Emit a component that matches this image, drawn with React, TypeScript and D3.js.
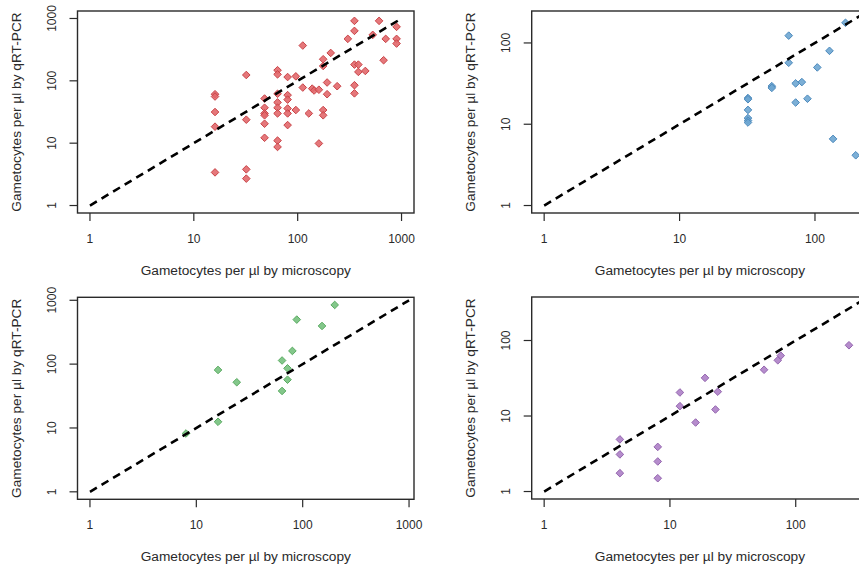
import React from "react";
import * as d3 from "d3";

// ---- Data ----
const TL_X = [352, 608, 352, 896, 528, 704, 896, 896, 304, 112, 208, 176, 176, 672, 352, 384, 384, 448, 64, 64, 32, 80, 96, 192, 240, 112, 138, 144, 160, 192, 352, 352, 64, 80, 80, 48, 64, 64, 48, 80, 96, 64, 80, 48, 48, 128, 176, 176, 48, 80, 48, 64, 64, 160, 16, 16, 16, 16, 16, 32, 32, 32];
const TL_Y = [916, 916, 633, 734, 546, 471, 471, 396, 471, 368, 280, 222, 173, 214, 182, 182, 139, 144, 148, 127, 124, 115, 118, 94, 82, 78, 75, 70, 72, 61, 85, 63, 62, 59, 50, 52, 45, 37, 37, 36, 34, 30, 30, 30, 28, 30, 34, 28, 20.5, 19.5, 12.2, 11, 8.7, 9.9, 61, 56, 31.6, 18.4, 3.4, 23.8, 3.8, 2.7];

const TR_X = [64, 168, 128, 64, 104, 48, 48, 72, 80, 72, 88, 32, 32, 32, 32, 32, 32, 136, 200];
const TR_Y = [123, 177, 80, 57, 50, 29.4, 28, 31.8, 33, 18.5, 20.6, 21, 20.3, 15, 11.9, 11.1, 10.5, 6.6, 4.15];

const BL_X = [200, 88, 152, 80, 64, 72, 72, 64, 16, 24, 16, 8];
const BL_Y = [845, 498, 396, 161, 114, 86, 57, 38, 81, 52, 12.5, 8.2];

const BR_X = [265, 76, 72, 56, 19, 12, 24, 12, 23, 16, 4, 4, 4, 8, 8, 8];
const BR_Y = [86.5, 63, 54.7, 41, 32, 20.5, 21, 13.5, 12.2, 8.2, 4.9, 3.1, 1.75, 3.9, 2.5, 1.5];

const AXIS_TICKS = [1, 10, 100, 1000];
const X_TITLE = "Gametocytes per µl by microscopy";
const Y_TITLE = "Gametocytes per µl by qRT-PCR";

const PANELS = [
  { id: "tl", xs: TL_X, ys: TL_Y, lim: 1000, left: 77.5, top: 11, fill: "#e2686c", stroke: "#c94448" },
  { id: "tr", xs: TR_X, ys: TR_Y, lim: 200, left: 531.7, top: 11, fill: "#6ea6d2", stroke: "#4b89bc" },
  { id: "bl", xs: BL_X, ys: BL_Y, lim: 850, left: 77.5, top: 297.3, fill: "#76c17d", stroke: "#5aab62" },
  { id: "br", xs: BR_X, ys: BR_Y, lim: 300, left: 531.7, top: 297, fill: "#ad7fc6", stroke: "#9364ae" },
];

const W = 336.5;
const H = 202;
const FONT = "'Liberation Sans', Arial, sans-serif";
const INK = "#2a2a2a";

function Panel({ p }: { p: (typeof PANELS)[number] }) {
  const r = Math.log10(p.lim);
  const ext = 0.04 * r;
  const dom: [number, number] = [Math.pow(10, -ext), Math.pow(10, r + ext)];
  const x = d3.scaleLog().domain(dom).range([0, W]);
  const y = d3.scaleLog().domain(dom).range([H, 0]);
  const ticks = AXIS_TICKS.filter((t) => t >= dom[0] && t <= dom[1]);
  const diamond = (cx: number, cy: number) => {
    const s = 3.8;
    return `M${cx},${cy - s}L${cx + s},${cy}L${cx},${cy + s}L${cx - s},${cy}Z`;
  };
  const line = d3.line<number>().x((d) => x(d)).y((d) => y(d));
  return (
    <g transform={`translate(${p.left},${p.top})`}>
      <defs>
        <clipPath id={`clip-${p.id}`}>
          <rect x={0} y={0} width={W} height={H} />
        </clipPath>
      </defs>
      <g clipPath={`url(#clip-${p.id})`}>
        {p.xs.map((xv, i) => (
          <path
            key={i}
            d={diamond(x(xv), y(p.ys[i]))}
            fill={p.fill}
            fillOpacity={0.9}
            stroke={p.stroke}
            strokeWidth={1}
          />
        ))}
        <path
          d={line([1, 1000]) || ""}
          fill="none"
          stroke="#000"
          strokeWidth={2.6}
          strokeDasharray="8,5.5"
        />
      </g>
      <rect x={0} y={0} width={W} height={H} fill="none" stroke={INK} strokeWidth={1.4} />
      {ticks.map((t) => (
        <g key={`x${t}`}>
          <line x1={x(t)} x2={x(t)} y1={H} y2={H + 8} stroke={INK} strokeWidth={1.2} />
          <text
            x={x(t)}
            y={H + 29.5}
            textAnchor="middle"
            fontFamily={FONT}
            fontSize={12}
            fill={INK}
          >
            {t}
          </text>
        </g>
      ))}
      {ticks.map((t) => (
        <g key={`y${t}`}>
          <line x1={-8} x2={0} y1={y(t)} y2={y(t)} stroke={INK} strokeWidth={1.2} />
          <text
            transform={`translate(${-21.5},${y(t)}) rotate(-90)`}
            textAnchor="middle"
            fontFamily={FONT}
            fontSize={12}
            fill={INK}
          >
            {t}
          </text>
        </g>
      ))}
      <text
        x={W / 2}
        y={H + 62}
        textAnchor="middle"
        fontFamily={FONT}
        fontSize={13.7}
        fill={INK}
      >
        {X_TITLE}
      </text>
      <text
        transform={`translate(${-57},${H / 2}) rotate(-90)`}
        textAnchor="middle"
        fontFamily={FONT}
        fontSize={13.7}
        fill={INK}
      >
        {Y_TITLE}
      </text>
    </g>
  );
}

export default function App() {
  return (
    <svg
      width={859}
      height={569}
      style={{ position: "absolute", left: 0, top: 0, background: "#fff" }}
    >
      <rect width={859} height={569} fill="#fff" />
      {PANELS.map((p) => (
        <Panel key={p.id} p={p} />
      ))}
    </svg>
  );
}
